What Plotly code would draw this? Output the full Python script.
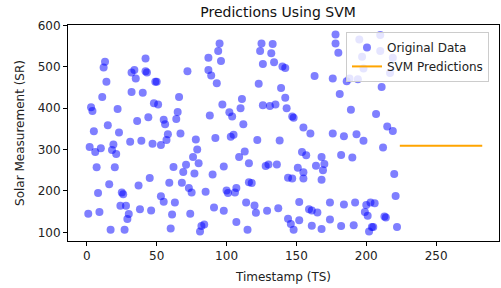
import plotly.graph_objects as go

# Original data (timestamp, solar measurement)
ts = [13, 12, 14, 11, 3, 4, 22, 5, 15, 23, 2, 6, 10, 19, 18, 21, 7, 20, 16, 8,
      25, 26, 24, 28, 30, 29, 1, 9, 17, 27, 34, 32, 35, 42, 42, 43, 49, 50, 32, 40,
      48, 51, 36, 44, 55, 56, 58, 57, 31, 39, 47, 53, 45, 37, 38, 46, 53, 55, 59, 63,
      61, 60, 62, 66, 65, 64, 67, 72, 68, 71, 69, 73, 75, 74, 78, 79, 76, 80, 77, 85,
      82, 84, 81,
      87, 87, 89, 93, 88, 95, 94, 96, 97, 102, 104, 111, 110, 112, 92, 103, 105, 122, 138, 113,
      109, 116, 98, 90, 107, 100, 101, 106, 116, 118, 91, 98, 107, 115, 114, 120, 121, 129, 137, 128,
      130, 136, 125, 124, 126, 133, 132, 134, 140, 142, 123, 126, 131, 135, 139, 142, 143, 147, 148, 155,
      160, 154, 157, 151, 155, 155, 144, 147, 152, 144, 146, 148, 152, 159, 161, 165, 161, 168, 174, 182,
      174, 184, 163, 176, 181, 176, 184, 182, 164, 168, 170, 169, 168, 178, 178, 180, 186,
      195, 210, 210, 197, 198, 217, 219, 188, 194, 211, 189, 207, 215, 219, 193, 198, 212, 190, 220,
      221, 192, 200, 203, 206, 199, 201, 213, 214, 191, 202, 204, 205, 222]
sr = [512, 498, 464, 427, 402, 393, 398, 344, 359, 341, 306, 294, 303, 312, 299, 289, 257, 257, 216, 195,
      196, 192, 164, 164, 144, 132, 145, 149, 106, 106, 492, 486, 472, 520, 489, 486, 464, 464, 439, 437,
      412, 409, 369, 378, 372, 361, 337, 323, 319, 321, 314, 311, 231, 213, 156, 153, 187, 174, 220, 172,
      143, 109, 258, 427, 391, 374, 339, 489, 220, 263, 246, 207, 196, 145, 324, 300, 282, 267, 242, 198,
      115, 119, 102,
      522, 492, 479, 460, 382, 556, 538, 514, 409, 390, 380, 422, 400, 361, 328, 331, 336, 323, 322, 295,
      282, 267, 259, 240, 207, 201, 195, 196, 221, 219, 160, 152, 125, 106, 172, 165, 147, 152, 158, 260,
      264, 264, 556, 538, 507, 555, 533, 511, 501, 497, 459, 407, 405, 409, 449, 425, 400, 380, 377, 353,
      339, 294, 286, 256, 245, 230, 232, 230, 173, 133, 120, 106, 129, 156, 153, 148, 116, 108, 131, 115,
      172, 167, 478, 472, 434, 339, 332, 287, 261, 282, 265, 250, 227, 578, 556, 534, 465,
      566, 577, 538, 524, 496, 485, 522, 472, 470, 451, 396, 386, 356, 345, 337, 321, 305, 281, 241,
      188, 172, 166, 172, 170, 149, 140, 138, 136, 117, 102, 113, 113, 113]

# SVM predictions
pred_ts = [224, 283]
pred_sr = [309, 309]

x_ticks = [0, 50, 100, 150, 200, 250]
y_ticks = [100, 200, 300, 400, 500, 600]

font = "DejaVu Sans, Liberation Sans, sans-serif"

fig = go.Figure()
fig.add_trace(go.Scatter(
    x=ts, y=sr, mode="markers", name="Original Data",
    marker=dict(color="rgba(0,0,255,0.5)", size=8, line=dict(width=0)),
))
fig.add_trace(go.Scatter(
    x=pred_ts, y=pred_sr, mode="lines", name="SVM Predictions",
    line=dict(color="#FFA500", width=2),
))

axis_common = dict(
    showline=True, mirror=True, linecolor="black", linewidth=1,
    ticks="outside", ticklen=4, tickcolor="black", tickwidth=1,
    showgrid=False, zeroline=False, automargin=False,
    tickfont=dict(family=font, size=12, color="#222"),
)

fig.update_layout(
    width=501, height=288,
    margin=dict(l=68, r=2, t=25, b=47, autoexpand=False),
    paper_bgcolor="white", plot_bgcolor="white",
    font=dict(family=font, size=12, color="#222"),
    title=dict(text="Predictions Using SVM", x=0.555, xanchor="center",
               y=1 - 12 / 288, yanchor="middle", yref="container",
               font=dict(family=font, size=14, color="#111")),
    xaxis=dict(range=[-13.5, 295], tickvals=x_ticks,
               title=dict(text="Timestamp (TS)", standoff=10,
                          font=dict(family=font, size=12, color="#222")),
               **axis_common),
    yaxis=dict(range=[79, 601], tickvals=y_ticks,
               title=dict(text="Solar Measurement (SR)", standoff=10,
                          font=dict(family=font, size=12, color="#222")),
               **axis_common),
    legend=dict(x=0.645, y=0.968, xanchor="left", yanchor="top",
                bgcolor="rgba(255,255,255,0.8)", bordercolor="#cccccc", borderwidth=1,
                font=dict(family=font, size=12, color="#222"),
                tracegroupgap=0, itemwidth=30),
    showlegend=True,
)

fig.write_html("out.html", config={"displayModeBar": False},
               post_script="document.body.style.margin='0';document.body.style.overflow='hidden';")
